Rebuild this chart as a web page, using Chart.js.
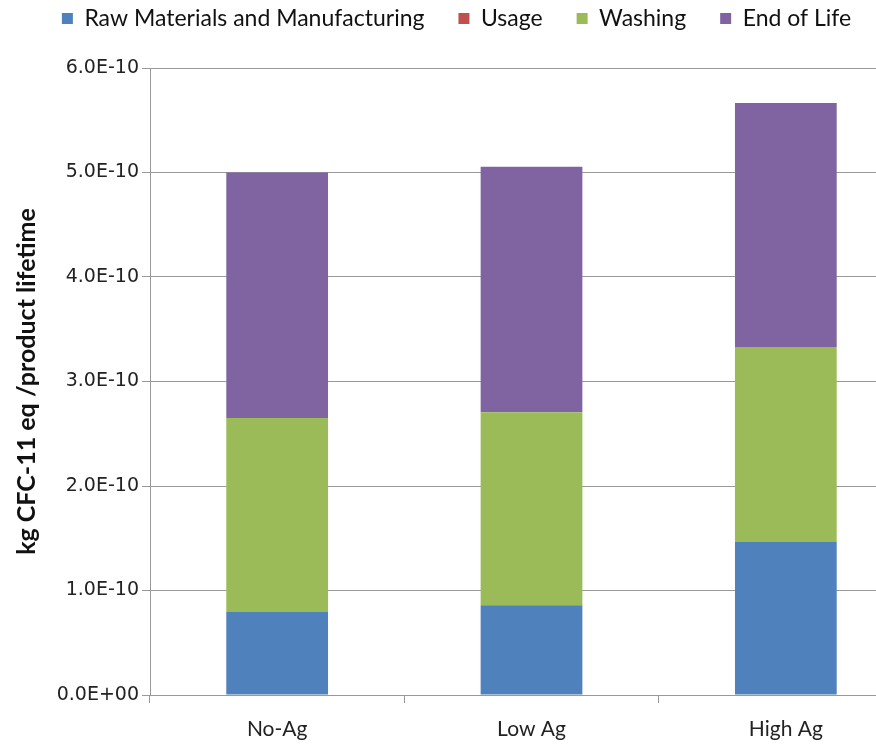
<!DOCTYPE html>
<html>
<head>
<meta charset="utf-8">
<script src="https://cdn.jsdelivr.net/npm/chart.js@4.4.1/dist/chart.umd.min.js"></script>
<style>
  html, body { margin: 0; padding: 0; background: #fff; overflow: hidden; }
  #wrap { width: 926px; height: 749px; }
</style>
</head>
<body>
<div id="wrap"><canvas id="ozoneChart"></canvas></div>
<script>
// Ozone depletion per product lifetime, by life-cycle stage
const categories = ['No-Ag', 'Low Ag', 'High Ag'];
const rawMaterials = [0.80e-10, 0.86e-10, 1.47e-10];
const usage = [0, 0, 0];
const washing = [1.85e-10, 1.845e-10, 1.86e-10];
const endOfLife = [2.35e-10, 2.35e-10, 2.335e-10];
const yTicks = [0, 1e-10, 2e-10, 3e-10, 4e-10, 5e-10, 6e-10];

const seriesNames = ['Raw Materials and Manufacturing', 'Usage', 'Washing', 'End of Life'];
const seriesColors = ['#4F81BD', '#C0504D', '#9BBB59', '#8064A2'];

function sciLabel(v) {
    const [m, e] = Number(v).toExponential(1).toUpperCase().split('E');
    const sign = e[0] === '-' ? '-' : '+';
    const digits = e.replace(/[+-]/, '').padStart(2, '0');
    return m + 'E' + sign + digits;
}

// pull the legend up toward the top edge, leaving the gap above the plot
const legendShift = {
    id: 'legendShift',
    afterLayout(chart) {
        const lg = chart.legend;
        if (!lg) return;
        lg.top -= 28;
        lg.bottom -= 28;
    }
};

const ctx = document.getElementById('ozoneChart').getContext('2d');

new Chart(ctx, {
    type: 'bar',
    data: {
        labels: categories,
        datasets: [rawMaterials, usage, washing, endOfLife].map((d, i) => ({
            label: seriesNames[i],
            data: d,
            backgroundColor: seriesColors[i],
            borderWidth: 0,
            categoryPercentage: 1,
            barPercentage: 0.4
        }))
    },
    plugins: [legendShift],
    options: {
        responsive: true,
        maintainAspectRatio: false,
        animation: false,
        layout: { padding: { top: 1, right: 13, bottom: 0, left: 0 } },
        plugins: {
            legend: {
                position: 'top',
                labels: {
                    boxWidth: 11,
                    boxHeight: 11,
                    padding: 34,
                    color: '#111',
                    font: { family: 'Lato', size: 23 }
                }
            },
            tooltip: { enabled: false }
        },
        scales: {
            x: {
                stacked: true,
                offset: true,
                grid: {
                    offset: true,
                    drawOnChartArea: false,
                    color: '#999',
                    tickLength: 8
                },
                border: { color: '#999' },
                ticks: { color: '#222', padding: 14, font: { family: 'Lato', size: 21 } },
                afterFit: s => { s.height = 54; }
            },
            y: {
                stacked: true,
                min: 0,
                max: 6e-10,
                afterBuildTicks: s => { s.ticks = yTicks.map(v => ({ value: v })); },
                grid: { color: '#999', tickLength: 8 },
                border: { color: '#999' },
                ticks: {
                    color: '#222',
                    padding: 3,
                    font: { family: 'DejaVu Sans', size: 19 },
                    callback: v => sciLabel(v)
                },
                title: {
                    display: true,
                    text: 'kg CFC-11 eq /product lifetime',
                    color: '#111',
                    font: { family: 'Lato', size: 25, weight: 'bold' },
                    padding: { top: 12, bottom: 4 }
                },
                afterFit: s => { s.width = 150; }
            }
        }
    }
});
</script>
</body>
</html>
